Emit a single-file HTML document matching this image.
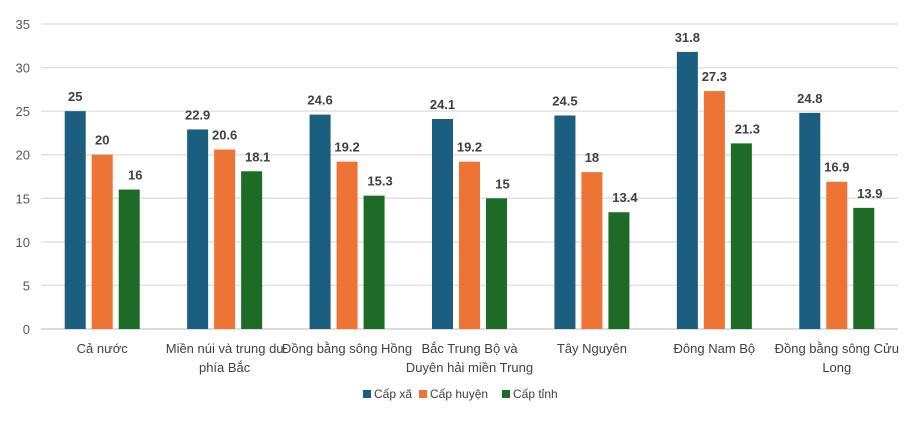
<!DOCTYPE html>
<html><head><meta charset="utf-8"><style>
body{margin:0;background:#fff;}
svg text{font-family:"Liberation Sans",sans-serif;}
</style></head><body>
<svg width="921" height="426">
<g id="grid"></g><g id="bars"></g><g id="labels"></g>
<g id="legend"></g>
</svg>
<script>
const categories=[["Cả nước"],["Miền núi và trung du","phía Bắc"],["Đồng bằng sông Hồng"],["Bắc Trung Bộ và","Duyên hải miền Trung"],["Tây Nguyên"],["Đông Nam Bộ"],["Đồng bằng sông Cửu","Long"]];
const seriesNames=["Cấp xã","Cấp huyện","Cấp tỉnh"];
const capXa=[25,22.9,24.6,24.1,24.5,31.8,24.8];
const capHuyen=[20,20.6,19.2,19.2,18,27.3,16.9];
const capTinh=[16,18.1,15.3,15,13.4,21.3,13.9];
const yTicks=[0,5,10,15,20,25,30,35];
const series=[capXa,capHuyen,capTinh];
const colors=["#1b5e80","#ed7434","#1e6b27"];
const NS="http://www.w3.org/2000/svg";
const x0=41,x1=898,yBase=329,yTop=24,yMax=35;
const y=v=>yBase-(v/yMax)*(yBase-yTop);
const gw=(x1-x0)/categories.length;
const gc=i=>x0+gw*(i+0.5);
function mk(p,t,a,txt){const e=document.createElementNS(NS,t);for(const k in a)e.setAttribute(k,a[k]);if(txt!==undefined)e.textContent=txt;p.appendChild(e);return e;}
const G=document.getElementById('grid'),B=document.getElementById('bars'),L=document.getElementById('labels'),LG=document.getElementById('legend');
yTicks.forEach(t=>{
 const l=mk(G,'line',{x1:x0,x2:x1,y1:y(t),y2:y(t),stroke:t===0?'#d0d0d0':'#e2e2e2','stroke-width':1.5});
 
 
 const tx=mk(G,'text',{x:30,y:y(t)+5,'text-anchor':'end','font-size':13,fill:'#595959'},t);
 
 
});
const bw=21,gap=6;
categories.forEach((c,i)=>{
 series.forEach((s,j)=>{
  const bx=gc(i)+(j-1)*(bw+gap)-bw/2;
  const r=mk(B,'rect',{x:bx,y:y(s[i]),width:bw,height:yBase-y(s[i]),fill:colors[j]});
  
  
  const t=mk(L,'text',{x:bx+bw/2+(j===2?6:0),y:y(s[i])-10,'text-anchor':'middle','font-size':13,'font-weight':'bold',fill:'#404040'},s[i]);
  
  
 });
 c.forEach((line,k)=>{
  const t=mk(L,'text',{x:gc(i),y:353+k*19,'text-anchor':'middle','font-size':13,fill:'#404040'},line);
  
  
 });
});
const lx=[363,419,502];
seriesNames.forEach((n,j)=>{
 const r=mk(LG,'rect',{x:lx[j],y:390,width:8,height:8,fill:colors[j]});
 
 
 const t=mk(LG,'text',{x:lx[j]+11,y:398,'font-size':12,fill:'#404040'},n);
 
 
});
</script>
</body></html>
